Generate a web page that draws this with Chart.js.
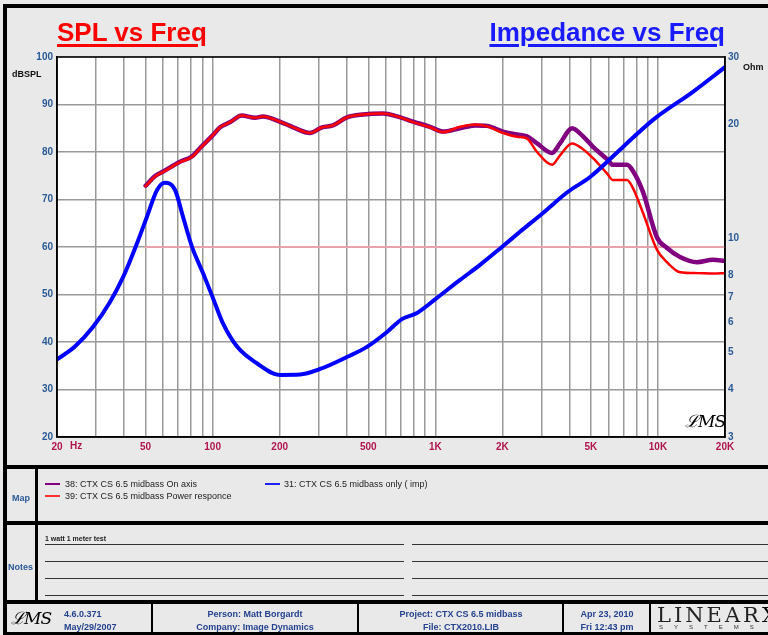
<!DOCTYPE html>
<html>
<head>
<meta charset="utf-8">
<script src="https://cdn.jsdelivr.net/npm/chart.js@4.4.0/dist/chart.umd.min.js"></script>
<style>
body { margin: 0; background: #e9e9e9; font-family: Arial, "Liberation Sans", sans-serif; }
#page { position: relative; width: 768px; height: 635px; overflow: hidden; background: #e9e9e9; }
#chart { position: absolute; left: 0; top: 0; }
.bar { position: absolute; background: #000; }
.t { position: absolute; white-space: nowrap; }
.title { font-size: 26px; font-weight: bold; line-height: 26px; text-decoration: underline; text-decoration-thickness: 2.5px; text-underline-offset: 3px; }
.axl { font-size: 9px; font-weight: bold; color: #111; line-height: 10px; }
.lbl { font-size: 9px; font-weight: bold; color: #2a5a96; line-height: 10px; }
.leg { font-size: 9px; color: #222; line-height: 10px; }
.sw { position: absolute; height: 2px; width: 15px; }
.nl { position: absolute; height: 1px; background: #333; }
.ft { position: absolute; font-size: 9px; font-weight: bold; color: #25428f; line-height: 13px; text-align: center; }
.sig { font-family: "DejaVu Serif", serif; font-style: italic; color: #000; }
</style>
</head>
<body>
<div id="page">
  <canvas id="chart" width="768" height="468"></canvas>

  <!-- frame lines -->
  <div class="bar" style="left:3px;top:4px;width:4px;height:631px"></div>
  <div class="bar" style="left:3px;top:4px;width:770px;height:4px"></div>
  <div class="bar" style="left:3px;top:465px;width:770px;height:4px"></div>
  <div class="bar" style="left:3px;top:521px;width:770px;height:4px"></div>
  <div class="bar" style="left:3px;top:600px;width:770px;height:4px"></div>
  <div class="bar" style="left:3px;top:632px;width:770px;height:3px"></div>
  <div class="bar" style="left:35px;top:467px;width:3px;height:56px"></div>
  <div class="bar" style="left:35px;top:523px;width:3px;height:79px"></div>
  <div class="bar" style="left:151px;top:602px;width:2px;height:32px"></div>
  <div class="bar" style="left:357px;top:602px;width:2px;height:32px"></div>
  <div class="bar" style="left:562px;top:602px;width:2px;height:32px"></div>
  <div class="bar" style="left:649px;top:602px;width:2px;height:32px"></div>

  <!-- titles -->
  <div class="t title" style="left:57px;top:19px;color:#ff0000">SPL vs Freq</div>
  <div class="t title" style="right:43px;top:19px;color:#1a1aff">Impedance vs Freq</div>
  <div class="t axl" style="left:12px;top:69px">dBSPL</div>
  <div class="t axl" style="left:743px;top:62px">Ohm</div>
  <div class="t" style="left:70px;top:441px;font-size:10px;font-weight:bold;line-height:10px;color:#b0134e">Hz</div>
  <div class="t sig" style="left:685px;top:411px;font-size:17px;line-height:20px;letter-spacing:-1px">ℒMS</div>

  <!-- map / legend -->
  <div class="t lbl" style="left:12px;top:493px">Map</div>
  <div class="sw" style="left:45px;top:483px;background:#800080;height:1.5px"></div>
  <div class="t leg" style="left:65px;top:479px">38: CTX CS 6.5 midbass On axis</div>
  <div class="sw" style="left:45px;top:495px;background:#ff3030;height:1.5px"></div>
  <div class="t leg" style="left:65px;top:491px">39: CTX CS 6.5 midbass Power responce</div>
  <div class="sw" style="left:265px;top:483px;background:#2020ff;height:1.5px"></div>
  <div class="t leg" style="left:284px;top:479px">31: CTX CS 6.5 midbass only ( imp)</div>

  <!-- notes -->
  <div class="t lbl" style="left:8px;top:562px">Notes</div>
  <div class="t" style="left:45px;top:535px;font-size:7px;font-weight:bold;line-height:8px;color:#222">1 watt 1 meter test</div>
  <div class="nl" style="left:45px;top:544px;width:359px"></div>
  <div class="nl" style="left:412px;top:544px;width:360px"></div>
  <div class="nl" style="left:45px;top:561px;width:359px"></div>
  <div class="nl" style="left:412px;top:561px;width:360px"></div>
  <div class="nl" style="left:45px;top:578px;width:359px"></div>
  <div class="nl" style="left:412px;top:578px;width:360px"></div>
  <div class="nl" style="left:45px;top:595px;width:359px"></div>
  <div class="nl" style="left:412px;top:595px;width:360px"></div>

  <!-- footer -->
  <div class="t sig" style="left:11px;top:607px;font-size:17px;line-height:22px;letter-spacing:-1px">ℒMS</div>
  <div class="ft" style="left:64px;top:608px;text-align:left">4.6.0.371<br>May/29/2007</div>
  <div class="ft" style="left:155px;top:608px;width:200px">Person: Matt Borgardt<br>Company: Image Dynamics</div>
  <div class="ft" style="left:361px;top:608px;width:200px">Project: CTX CS 6.5 midbass<br>File: CTX2010.LIB</div>
  <div class="ft" style="left:565px;top:608px;width:84px">Apr 23, 2010<br>Fri 12:43 pm</div>
  <div class="t" style="left:657px;top:604px;font-family:'DejaVu Serif',serif;font-size:21px;line-height:22px;letter-spacing:3px;color:#222;font-weight:300">LINEAR<b style="color:#000">X</b></div>
  <div class="t" style="left:659px;top:624px;font-size:6px;line-height:7px;letter-spacing:11px;color:#333">SYSTEMS</div>
</div>

<script>
// SPL curves (dB)
const splFreq = [50, 55, 60, 71, 81, 88, 100, 108, 120, 135, 155, 168, 200, 230, 274, 310, 347, 401, 473, 582, 673, 794, 946, 1083, 1291, 1508, 1706, 2014, 2328, 2582, 2864, 3344, 3631, 4112, 4606, 5108, 5900, 6280, 7260, 7720, 8560, 9900, 10980, 12560, 14960, 17660, 20000];
const splOnAxis = [72.9, 74.9, 75.9, 77.9, 79.1, 80.9, 83.5, 85.2, 86.3, 87.7, 87.2, 87.5, 86.4, 85.2, 84.0, 85.2, 85.6, 87.3, 87.9, 88.1, 87.5, 86.4, 85.3, 84.3, 85.0, 85.6, 85.5, 84.3, 83.7, 83.3, 81.8, 79.8, 81.8, 85.0, 83.3, 81.1, 78.5, 77.3, 77.3, 76.0, 71.6, 62.0, 59.8, 57.9, 56.8, 57.3, 57.1];
const splPower = [72.8, 74.8, 75.8, 77.8, 79.0, 80.8, 83.5, 85.2, 86.3, 87.7, 87.2, 87.5, 86.4, 85.2, 84.0, 85.2, 85.6, 87.3, 87.9, 88.1, 87.5, 86.3, 85.2, 84.2, 85.3, 85.8, 85.4, 84.0, 83.2, 82.8, 80.0, 77.3, 79.3, 81.8, 80.6, 78.7, 75.5, 74.1, 74.1, 72.4, 67.2, 59.4, 56.8, 54.7, 54.5, 54.4, 54.5];

// impedance (ohm)
const impFreq = [20, 24, 29, 34.6, 39.6, 45.8, 50.7, 56.3, 61, 67.8, 73.6, 80.8, 90.5, 100, 111, 129, 158, 200, 247, 304, 401, 493, 607, 708, 828, 1018, 1291, 1588, 1991, 2400, 3045, 3904, 4955, 6966, 9506, 14360, 20000];
const impOhms = [4.8, 5.18, 5.84, 6.8, 7.9, 9.72, 11.4, 13.4, 14.0, 13.4, 11.4, 9.49, 8.1, 7.0, 5.99, 5.18, 4.69, 4.37, 4.38, 4.53, 4.87, 5.18, 5.67, 6.13, 6.36, 6.97, 7.77, 8.51, 9.49, 10.4, 11.66, 13.2, 14.5, 17.4, 20.5, 24.3, 28.2];

// pink reference line
const refFreq = [50, 20000];
const refLevel = [60, 60];

// axes
const freqGrid = [20, 30, 40, 50, 60, 70, 80, 90, 100, 200, 300, 400, 500, 600, 700, 800, 900, 1000, 2000, 3000, 4000, 5000, 6000, 7000, 8000, 9000, 10000, 20000];
const freqLabelValues = [20, 50, 100, 200, 500, 1000, 2000, 5000, 10000, 20000];
const freqLabelText = ['20', '50', '100', '200', '500', '1K', '2K', '5K', '10K', '20K'];
const splTicks = [20, 30, 40, 50, 60, 70, 80, 90, 100];
const ohmTicks = [3, 4, 5, 6, 7, 8, 10, 20, 30];

const FONT = 'Arial, "Liberation Sans", sans-serif';
Chart.defaults.font.family = FONT;

function pairs(xs, ys) {
    return xs.map((x, i) => ({ x: x, y: ys[i] }));
}

// white plot area + black frame
const plotFrame = {
    id: 'plotFrame',
    beforeDraw(chart) {
        const a = chart.chartArea;
        const ctx = chart.ctx;
        ctx.save();
        ctx.fillStyle = '#ffffff';
        ctx.fillRect(a.left, a.top, a.right - a.left, a.bottom - a.top);
        ctx.restore();
    },
    afterDraw(chart) {
        const a = chart.chartArea;
        const ctx = chart.ctx;
        ctx.save();
        ctx.strokeStyle = '#000';
        ctx.lineWidth = 1.5;
        ctx.strokeRect(a.left, a.top, a.right - a.left, a.bottom - a.top);
        ctx.restore();
    }
};

const ctx = document.getElementById('chart').getContext('2d');
new Chart(ctx, {
    type: 'line',
    data: {
        datasets: [
            {
                label: '31: CTX CS 6.5 midbass only ( imp)',
                data: pairs(impFreq, impOhms),
                yAxisID: 'y1',
                borderColor: '#0000ff',
                borderWidth: 4,
                order: 0
            },
            {
                label: '39: CTX CS 6.5 midbass Power responce',
                data: pairs(splFreq, splPower),
                yAxisID: 'y',
                borderColor: '#ff0000',
                borderWidth: 2.5,
                order: 1
            },
            {
                label: '38: CTX CS 6.5 midbass On axis',
                data: pairs(splFreq, splOnAxis),
                yAxisID: 'y',
                borderColor: '#800080',
                borderWidth: 4.5,
                order: 2
            },
            {
                label: 'ref',
                data: pairs(refFreq, refLevel),
                yAxisID: 'y',
                borderColor: '#eaa3ad',
                borderWidth: 2,
                order: 3
            }
        ]
    },
    options: {
        responsive: false,
        animation: false,
        events: [],
        layout: { padding: { top: 57, left: 0, right: 0, bottom: 0 } },
        elements: {
            point: { radius: 0 },
            line: { cubicInterpolationMode: 'monotone', fill: false, borderCapStyle: 'round', borderJoinStyle: 'round' }
        },
        plugins: { legend: { display: false }, tooltip: { enabled: false } },
        scales: {
            x: {
                type: 'logarithmic',
                position: 'bottom',
                min: 20,
                max: 20000,
                afterBuildTicks: s => { s.ticks = freqGrid.map(v => ({ value: v })); },
                afterFit: s => { s.height = 31; },
                grid: { color: '#9a9a9a', lineWidth: 1.5, drawTicks: false },
                border: { color: '#000', width: 1.5 },
                ticks: {
                    autoSkip: false,
                    maxRotation: 0,
                    minRotation: 0,
                    padding: 4,
                    color: '#b0134e',
                    font: { size: 10, weight: 'bold' },
                    callback: v => {
                        const i = freqLabelValues.indexOf(v);
                        return i < 0 ? '' : freqLabelText[i];
                    }
                }
            },
            y: {
                type: 'linear',
                position: 'left',
                min: 20,
                max: 100,
                afterBuildTicks: s => { s.ticks = splTicks.map(v => ({ value: v })); },
                afterFit: s => { s.width = 57; },
                grid: { color: '#9a9a9a', lineWidth: 1.5, drawTicks: false },
                border: { color: '#000', width: 1.5 },
                ticks: { padding: 4, color: '#2a5a96', font: { size: 10, weight: 'bold' } }
            },
            y1: {
                type: 'logarithmic',
                position: 'right',
                min: 3,
                max: 30,
                afterBuildTicks: s => { s.ticks = ohmTicks.map(v => ({ value: v })); },
                afterFit: s => { s.width = 43; },
                grid: { display: false, drawTicks: false },
                border: { color: '#000', width: 1.5 },
                ticks: {
                    padding: 3,
                    color: '#2a5a96',
                    font: { size: 10, weight: 'bold' },
                    callback: v => String(v)
                }
            }
        }
    },
    plugins: [plotFrame]
});
</script>
</body>
</html>
